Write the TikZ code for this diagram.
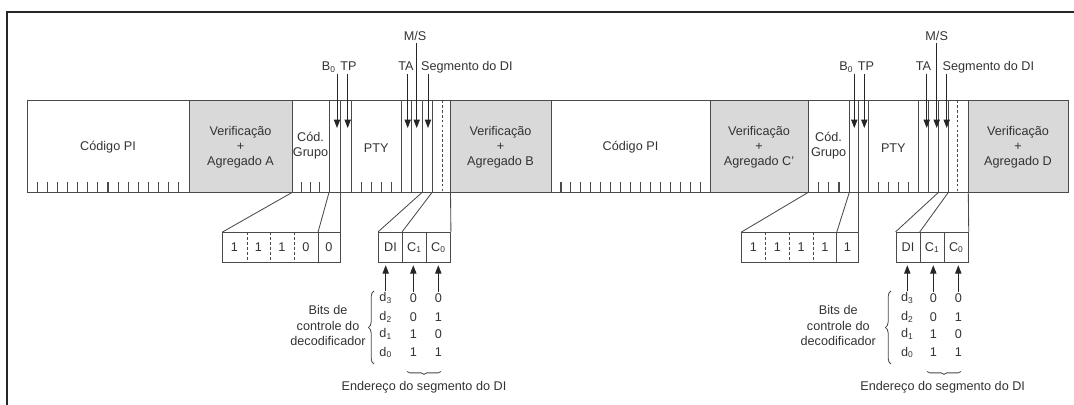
\documentclass[tikz,border=0pt]{standalone}
\usepackage{fontspec}
\setmainfont{Liberation Sans}
\usepackage{tikz}
\usetikzlibrary{arrows.meta, decorations.pathreplacing}
\definecolor{cinza}{HTML}{D9D9D9}
\definecolor{traco}{HTML}{4A4A4A}
\definecolor{texto}{HTML}{333333}

\begin{document}
\begin{tikzpicture}[x=0.025cm, y=-0.025cm,
    every node/.style={text=texto, font=\fontsize{9}{10.6}\selectfont, inner sep=1pt},
    linha/.style={traco, line width=0.6pt},
    tracejado/.style={linha, dash pattern=on 2pt off 1.5pt},
    seta/.style={-{Triangle[length=6pt, width=4.5pt]}, black!85, line width=0.7pt},
    rotulo/.style={text height=6.5pt, text depth=1pt},
    celula/.style={draw=traco, line width=0.6pt, minimum width=0.6cm, minimum height=0.76cm, inner sep=0pt},
    chave/.style={linha, decorate, decoration={brace, amplitude=#1}}]
  \useasboundingbox (0,0) rectangle (1074,405);
  % moldura
  \draw[black!85, line width=1.4pt] (7,405) -- (7,12) -- (1074,12);

  % campos de verificacao (cinza)
  \fill[cinza] (189,100) rectangle (292,192.5);
  \fill[cinza] (450,100) rectangle (551,192.5);
  \fill[cinza] (710,100) rectangle (808,192.5);
  \fill[cinza] (968.3,100) rectangle (1068,192.5);
  % contorno e divisoes da barra
  \draw[linha] (27,100) rectangle (1068,192.5);
  \foreach \x in {189,292,329,340,351.5,401,411.5,422,432,450,
                  551,710,808,849.3,858.3,868.3,918.3,928.3,938.3,948.3,968.3}
    \draw[linha] (\x,100) -- (\x,192.5);
  \draw[tracejado] (442,100) -- (442,192.5);
  \draw[tracejado] (957.7,100) -- (957.7,192.5);
  % marcas dos bits
  \foreach \i in {1,...,15} {
    \draw[linha, line width=0.8pt] ({27+\i*10.125},182) -- ++(0,10.5);
    \draw[linha, line width=0.8pt] ({551+\i*9.94},182) -- ++(0,10.5);
  }
  \foreach \x in {301.25,310.5,319.75,361.4,371.3,381.2,391.1,
                  818.3,828.6,839,878.3,888.3,898.3,908.3}
    \draw[linha, line width=0.8pt] (\x,182) -- ++(0,10.5);

  % textos da barra
  \node (pi1) at (108,147) {Código PI};
  \node[align=center] (verA) at (240.5,147) {Verificação\\+\\Agregado A};
  \node[align=center] (grupo1) at (310.5,146) {Cód.\\Grupo};
  \node (pty1) at (376.2,148) {PTY};
  \node[align=center] (verB) at (500.5,147) {Verificação\\+\\Agregado B};
  \node (pi2) at (630.5,147) {Código PI};
  \node[align=center] (verC) at (759,147) {Verificação\\+\\Agregado C'};
  \node[align=center] (grupo2) at (828.6,146) {Cód.\\Grupo};
  \node (pty2) at (893.3,148) {PTY};
  \node[align=center] (verD) at (1018,147) {Verificação\\+\\Agregado D};

  % bits sinalizados por cima (1a metade)
  \coordinate (b0A) at (337,128);
  \coordinate (tpA) at (347.7,128);
  \coordinate (taA) at (407.7,128);
  \coordinate (msA) at (416.7,128);
  \coordinate (segA) at (428,128);
  \node[rotulo, anchor=east] (lb0A) at (337.5,67) {B\textsubscript{0}};
  \node[rotulo] (ltpA) at (348.5,67) {TP};
  \node[rotulo] (ltaA) at (406,67) {TA};
  \node[rotulo] (lmsA) at (415,36.5) {M/S};
  \node[rotulo, anchor=west] (lsegA) at (419.5,67) {Segmento do DI};
  \draw[seta] (lb0A.south -| b0A) -- (b0A);
  \draw[seta] (ltpA.south -| tpA) -- (tpA);
  \draw[seta] (ltaA.south -| taA) -- (taA);
  \draw[seta] (lmsA.south -| msA) -- (msA);
  \draw[seta] (lsegA.south -| segA) -- (segA);

  % bits sinalizados por cima (2a metade)
  \coordinate (b0B) at (854.3,128);
  \coordinate (tpB) at (864.3,128);
  \coordinate (taB) at (926.7,128);
  \coordinate (msB) at (936.7,128);
  \coordinate (segB) at (946.7,128);
  \node[rotulo, anchor=east] (lb0B) at (855,67) {B\textsubscript{0}};
  \node[rotulo] (ltpB) at (866,67) {TP};
  \node[rotulo] (ltaB) at (923.5,67) {TA};
  \node[rotulo] (lmsB) at (936.7,36.5) {M/S};
  \node[rotulo, anchor=west] (lsegB) at (941,67) {Segmento do DI};
  \draw[seta] (lb0B.south -| b0B) -- (b0B);
  \draw[seta] (ltpB.south -| tpB) -- (tpB);
  \draw[seta] (ltaB.south -| taB) -- (taB);
  \draw[seta] (lmsB.south -| msB) -- (msB);
  \draw[seta] (lsegB.south -| segB) -- (segB);

  % codigo do grupo + B0 ampliados
  \draw[linha] (222,232.3) rectangle (340,262.7);
  \draw[tracejado] (247,232.3) -- (247,262.7) (270,232.3) -- (270,262.7) (294,232.3) -- (294,262.7);
  \draw[linha] (318,232.3) -- (318,262.7);
  \foreach \x/\v [count=\k] in {234.5/1,258.5/1,282/1,306/0,329/0}
    \node (gA\k) at (\x,247.5) {\v};
  \draw[linha] (292,192.5) -- (222,232.3);
  \draw[linha] (329,192.5) -- (318,232.3);
  \draw[linha] (340,192.5) -- (340,232.3);

  \draw[linha] (741,232.3) rectangle (858.3,262.7);
  \draw[tracejado] (765.7,232.3) -- (765.7,262.7) (789,232.3) -- (789,262.7) (813.3,232.3) -- (813.3,262.7);
  \draw[linha] (836.7,232.3) -- (836.7,262.7);
  \foreach \x/\v [count=\k] in {753.3/1,777.3/1,801.2/1,825/1,847.5/1}
    \node (gB\k) at (\x,247.5) {\v};
  \draw[linha] (808,192.5) -- (741,232.3);
  \draw[linha] (849.3,192.5) -- (836.7,232.3);
  \draw[linha] (858.3,192.5) -- (858.3,232.3);

  % segmento do DI ampliado
  \node[celula] (diA) at (390.5,247.5) {DI};
  \node[celula] (c1A) at (414.5,247.5) {C\textsubscript{1}};
  \node[celula] (c0A) at (438.5,247.5) {C\textsubscript{0}};
  \draw[linha] (diA.north west) -- (422,192.5);
  \draw[linha] (c1A.north west) -- (432,192.5);
  \draw[linha] (c0A.north east) -- (450.5,192.5);

  \node[celula] (diB) at (908,247.5) {DI};
  \node[celula] (c1B) at (932.2,247.5) {C\textsubscript{1}};
  \node[celula] (c0B) at (956.3,247.5) {C\textsubscript{0}};
  \draw[linha] (diB.north west) -- (938.3,192.5);
  \draw[linha] (c1B.north west) -- (948.3,192.5);
  \draw[linha] (c0B.north east) -- (968.3,192.5);

  % bits de controle do decodificador
  \foreach \y/\a/\b [count=\k] in {298/0/0,316.7/0/1,334/1/0,352.3/1/1} {
    \node (uA\k) at (413.3,\y) {\a};
    \node (vA\k) at (438.3,\y) {\b};
    \node (uB\k) at (933.3,\y) {\a};
    \node (vB\k) at (958.3,\y) {\b};
  }
  \node (dA3) at (385.7,298) {d\textsubscript{3}};
  \node (dA2) at (385.7,316.7) {d\textsubscript{2}};
  \node (dA1) at (385.7,334) {d\textsubscript{1}};
  \node (dA0) at (385.7,352.3) {d\textsubscript{0}};
  \node (dB3) at (907.3,298) {d\textsubscript{3}};
  \node (dB2) at (907.3,316.7) {d\textsubscript{2}};
  \node (dB1) at (907.3,334) {d\textsubscript{1}};
  \node (dB0) at (907.3,352.3) {d\textsubscript{0}};
  \draw[seta, shorten >=1.5pt] (dA3.north) -- (dA3.north |- diA.south);
  \draw[seta, shorten >=1.5pt] (uA1.north) -- (uA1.north |- c1A.south);
  \draw[seta, shorten >=1.5pt] (vA1.north) -- (vA1.north |- c0A.south);
  \draw[seta, shorten >=1.5pt] (dB3.north) -- (dB3.north |- diB.south);
  \draw[seta, shorten >=1.5pt] (uB1.north) -- (uB1.north |- c1B.south);
  \draw[seta, shorten >=1.5pt] (vB1.north) -- (vB1.north |- c0B.south);

  \draw[chave=4pt] (374,364) -- (374,291);
  \draw[chave=4pt] (891,364) -- (891,291);
  \draw[chave=2pt] (441,371.5) -- (407,371.5);
  \draw[chave=2pt] (961,371.5) -- (927,371.5);
  \node[align=center, font=\fontsize{9}{11.3}\selectfont] (bitsA) at (328,325.5) {Bits de\\controle do\\decodificador};
  \node[align=center, font=\fontsize{9}{11.3}\selectfont] (bitsB) at (838.3,325.5) {Bits de\\controle do\\decodificador};
  \node (endA) at (424,387) {Endereço do segmento do DI};
  \node (endB) at (942.7,387) {Endereço do segmento do DI};
\end{tikzpicture}
\end{document}
